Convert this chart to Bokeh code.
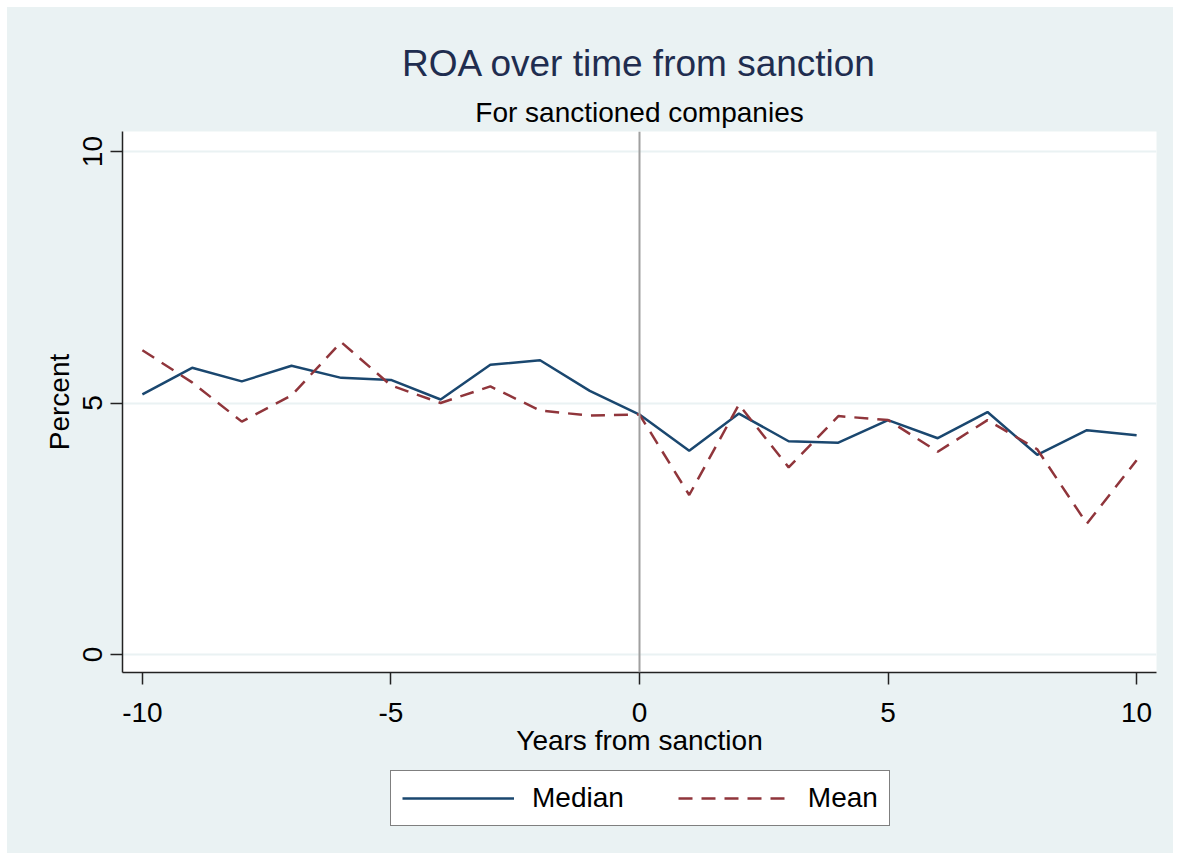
from bokeh.plotting import figure
from bokeh.models import Title, Legend, LegendItem, Span, Range1d, FixedTicker, Spacer
from bokeh.layouts import row, column
from bokeh.embed import file_html
from bokeh.resources import INLINE

years = list(range(-10, 11))
median_roa = [5.17, 5.70, 5.43, 5.74, 5.50, 5.46, 5.07, 5.76, 5.85, 5.24, 4.77,
              4.05, 4.79, 4.24, 4.21, 4.66, 4.30, 4.82, 3.97, 4.46, 4.36]
mean_roa = [6.05, 5.41, 4.63, 5.15, 6.21, 5.35, 5.00, 5.33, 4.85, 4.75, 4.77,
            3.17, 4.97, 3.72, 4.74, 4.66, 4.03, 4.66, 4.08, 2.60, 3.86]
x_ticks = [-10, -5, 0, 5, 10]
x_tick_labels = ["-10", "-5", "0", "5", "10"]
y_ticks = [0, 5, 10]
y_tick_labels = ["0", "5", "10"]
series_names = ["Median", "Mean"]

BG = "#EAF2F3"
NAVY = "#1a476f"
MAROON = "#90353b"
FONT = "Liberation Sans"
DASH = "14 9"

W = 1166
H_MAIN = 760
H_LEG = 86

p = figure(width=W, height=H_MAIN, output_backend="svg", toolbar_location=None,
           x_range=Range1d(-10.4, 10.4), y_range=Range1d(-0.36, 10.4),
           min_border_left=115, min_border_right=17, min_border_top=124,
           min_border_bottom=95)
p.background_fill_color = "white"
p.border_fill_color = BG
p.outline_line_color = None

sub = Title(text="For sanctioned companies", align="center", text_font=FONT,
            text_font_size="28px", text_font_style="normal", text_color="black",
            standoff=8)
p.add_layout(sub, "above")
main = Title(text="ROA over time from sanction", align="center", text_font=FONT,
             text_font_size="37px", text_font_style="normal", text_color="#1F2D4F",
             standoff=13)
p.add_layout(main, "above")

# axes
p.xaxis.ticker = FixedTicker(ticks=x_ticks)
p.yaxis.ticker = FixedTicker(ticks=y_ticks)
p.xaxis.major_label_overrides = dict(zip(x_ticks, x_tick_labels))
p.yaxis.major_label_overrides = dict(zip(y_ticks, y_tick_labels))
p.xaxis.axis_label = "Years from sanction"
p.yaxis.axis_label = "Percent"
for ax in (p.xaxis[0], p.yaxis[0]):
    ax.axis_label_text_font = FONT
    ax.axis_label_text_font_size = "28px"
    ax.axis_label_text_font_style = "normal"
    ax.axis_label_text_color = "black"
    ax.major_label_text_font = FONT
    ax.major_label_text_font_size = "28px"
    ax.major_label_text_color = "black"
    ax.axis_line_color = "#222222"
    ax.axis_line_width = 1.5
    ax.major_tick_line_color = "#222222"
    ax.major_tick_line_width = 1.5
    ax.major_tick_out = 12
    ax.major_tick_in = 0
    ax.minor_tick_line_color = None
p.yaxis.major_label_orientation = "vertical"
p.xaxis.major_label_standoff = 18
p.yaxis.major_label_standoff = 8
p.xaxis.axis_label_standoff = 0
p.yaxis.axis_label_standoff = 6

p.xgrid.grid_line_color = None
p.ygrid.grid_line_color = BG
p.ygrid.grid_line_width = 2

p.add_layout(Span(location=0, dimension="height", line_color="#A0A0A0", line_width=2))

p.line(years, median_roa, line_color=NAVY, line_width=2.5)
p.line(years, mean_roa, line_color=MAROON, line_width=2.5, line_dash=DASH)

# legend strip below the plot (same styles, renderers out of view)
q = figure(width=W, height=H_LEG, output_backend="svg", toolbar_location=None,
           x_range=Range1d(-10.4, 10.4), y_range=Range1d(100, 101),
           x_axis_type=None, y_axis_type=None, min_border=0)
q.background_fill_color = None
q.border_fill_color = None
q.outline_line_color = None
q.xgrid.grid_line_color = None
q.ygrid.grid_line_color = None
lm = q.line(years, median_roa, line_color=NAVY, line_width=2.5)
ln = q.line(years, mean_roa, line_color=MAROON, line_width=2.5, line_dash=DASH)

legend = Legend(items=[LegendItem(label=series_names[0], renderers=[lm]),
                       LegendItem(label=series_names[1], renderers=[ln])],
                orientation="horizontal", location=(268, 27),
                label_text_font=FONT, label_text_font_size="28px",
                label_text_color="black",
                glyph_width=112, glyph_height=20, label_standoff=18,
                spacing=54, padding=11, margin=0,
                border_line_color="black", border_line_width=1.2,
                background_fill_color="white", background_fill_alpha=1.0)
q.add_layout(legend, "center")

inner = column(p, q, styles={"background-color": BG})
layout = row(Spacer(width=7), column(Spacer(height=7), inner))
open("out.html", "w").write(file_html(layout, INLINE))
